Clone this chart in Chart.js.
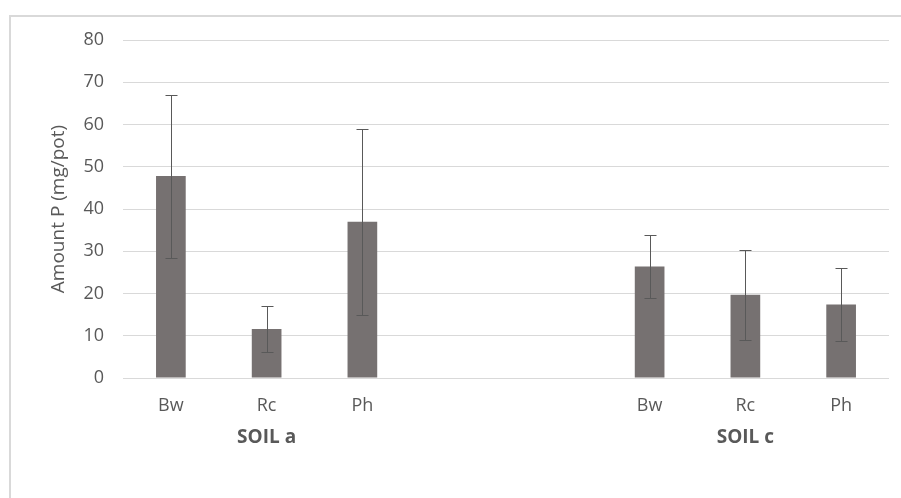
<!DOCTYPE html>
<html>
<head>
<meta charset="utf-8">
<script src="https://cdn.jsdelivr.net/npm/chart.js@4/dist/chart.umd.min.js"></script>
<style>
  html, body { margin: 0; padding: 0; background: #ffffff; }
  canvas { display: block; }
</style>
</head>
<body>
<canvas id="chart" width="901" height="498"></canvas>
<script>
// Soil groups and the treatments measured within each
const soils = ['SOIL a', 'SOIL c'];
const treatments = ['Bw', 'Rc', 'Ph'];

// Mean amount of P (mg/pot) and its error (±) per treatment
const meanSoilA = [47.8, 11.6, 37.0];
const errSoilA  = [19.3, 5.5, 22.0];
const meanSoilC = [26.4, 19.7, 17.4];
const errSoilC  = [7.4, 10.6, 8.7];

// Y axis ticks
const yTicks = [0, 10, 20, 30, 40, 50, 60, 70, 80];

// Two empty spacer slots separate the soil groups on the category axis
const spacer = ['', ''];
const labels = [...treatments, ...spacer, ...treatments];
const means  = [...meanSoilA, null, null, ...meanSoilC];
const errors = [...errSoilA, null, null, ...errSoilC];
const groupSlots = [[0, 2], [5, 7]];

const FONT = "'Open Sans', 'DejaVu Sans', sans-serif";
const TEXT = '#595959';
const GRID = '#d9d9d9';

// White background and light frame around the whole chart
const framePlugin = {
  id: 'frame',
  beforeDraw(chart) {
    const ctx = chart.ctx;
    ctx.save();
    ctx.fillStyle = '#ffffff';
    ctx.fillRect(0, 0, chart.width, chart.height);
    ctx.strokeStyle = GRID;
    ctx.lineWidth = 2;
    ctx.strokeRect(10, 16, chart.width + 20, chart.height + 20);
    ctx.restore();
  }
};

// Vertical error bars with caps, drawn from means ± errors
const errorBarPlugin = {
  id: 'errorBars',
  afterDatasetsDraw(chart) {
    const ctx = chart.ctx;
    const meta = chart.getDatasetMeta(0);
    const y = chart.scales.y;
    ctx.save();
    ctx.strokeStyle = '#595959';
    ctx.lineWidth = 1;
    meta.data.forEach((bar, i) => {
      const m = means[i], e = errors[i];
      if (m == null || e == null) return;
      const x = Math.round(bar.x) + 0.5;
      const top = Math.round(y.getPixelForValue(m + e)) + 0.5;
      const bot = Math.round(y.getPixelForValue(m - e)) + 0.5;
      const cap = 6;
      ctx.beginPath();
      ctx.moveTo(x, top); ctx.lineTo(x, bot);
      ctx.moveTo(x - cap, top); ctx.lineTo(x + cap, top);
      ctx.moveTo(x - cap, bot); ctx.lineTo(x + cap, bot);
      ctx.stroke();
    });
    ctx.restore();
  }
};

// Second-level category labels naming each soil group
const groupLabelPlugin = {
  id: 'groupLabels',
  afterDraw(chart) {
    const ctx = chart.ctx;
    const xs = chart.scales.x;
    ctx.save();
    ctx.fillStyle = TEXT;
    ctx.font = "bold 19px " + FONT;
    ctx.textAlign = 'center';
    ctx.textBaseline = 'middle';
    soils.forEach((name, g) => {
      const [a, b] = groupSlots[g];
      const cx = (xs.getPixelForValue(a) + xs.getPixelForValue(b)) / 2;
      ctx.fillText(name, cx, chart.chartArea.bottom + 60);
    });
    ctx.restore();
  }
};

new Chart(document.getElementById('chart'), {
  type: 'bar',
  data: {
    labels: labels,
    datasets: [{
      data: means,
      backgroundColor: '#767171',
      borderWidth: 0,
      barPercentage: 0.31,
      categoryPercentage: 1.0
    }]
  },
  options: {
    responsive: false,
    animation: false,
    devicePixelRatio: 1,
    layout: { padding: { left: 10, right: 12, top: 40, bottom: 0 } },
    plugins: {
      legend: { display: false },
      tooltip: { enabled: false }
    },
    scales: {
      x: {
        offset: true,
        grid: { display: false, drawTicks: false },
        border: { display: false },
        ticks: {
          color: TEXT,
          font: { family: FONT, size: 18 },
          padding: 17,
          maxRotation: 0,
          autoSkip: false
        },
        afterFit(scale) { scale.height = 120; }
      },
      y: {
        min: yTicks[0],
        max: yTicks[yTicks.length - 1],
        afterBuildTicks(scale) { scale.ticks = yTicks.map(v => ({ value: v })); },
        grid: { color: GRID, lineWidth: 1, drawTicks: false },
        border: { display: false },
        ticks: {
          color: TEXT,
          font: { family: FONT, size: 18 },
          padding: 19
        },
        title: {
          display: true,
          text: 'Amount P (mg/pot)',
          color: TEXT,
          font: { family: FONT, size: 19 },
          padding: { top: 37, bottom: 0 }
        },
        afterFit(scale) { scale.width = 113; }
      }
    }
  },
  plugins: [framePlugin, errorBarPlugin, groupLabelPlugin]
});
</script>
</body>
</html>
